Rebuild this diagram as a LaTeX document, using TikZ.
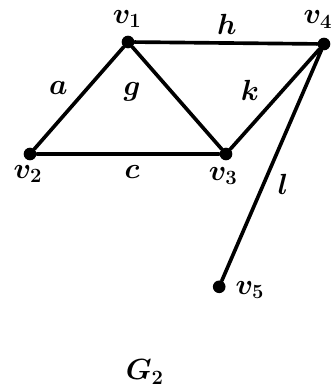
\documentclass[tikz,border=0pt]{standalone}
\usepackage{amsmath}
\begin{document}
\begin{tikzpicture}[font=\huge\boldmath, line join=round, line cap=round,
	edge/.style={line width=2.6pt},
	vertex/.style={circle, fill=black, inner sep=0pt, minimum size=9pt}]
	\useasboundingbox (0,0) rectangle (8.4,9.75);
	% Tọa độ các đỉnh
	\node[vertex] (v1) at (3.2,8.7) {}; \node[vertex] (v4) at (8.1,8.65) {};
	\node[vertex] (v2) at (0.75,5.9) {}; \node[vertex] (v3) at (5.65,5.9) {};
	\node[vertex] (v5) at (5.48,2.58) {};
	
	% Vẽ các cạnh
	\draw[edge] (v1) -- (v4);
	\draw[edge] (v1) -- (v2) -- (v3) -- (v1);
	\draw[edge] (v3) -- (v4) -- (v5);
	
	% Gán nhãn các đỉnh
	\node (l1) at (3.18,9.28) {$v_1$}; \node[inner sep=1pt] (l4) at (7.95,9.26) {$v_4$};
	\node (l2) at (0.7,5.4) {$v_2$}; \node (l3) at (5.58,5.35) {$v_3$};
	\node (l5) at (6.25,2.5) {$v_5$};
	
	% Gán nhãn các cạnh
	\node (ea) at (1.46,7.55) {$a$}; \node (eg) at (3.3,7.45) {$g$};
	\node (eh) at (5.67,9.15) {$h$}; \node (ek) at (6.25,7.5) {$k$};
	\node (ec) at (3.3,5.45) {$c$}; \node (el) at (7.08,5.13) {$l$};
	\node (gname) at (3.62,0.45) {$G_2$};
\end{tikzpicture}
\end{document}
